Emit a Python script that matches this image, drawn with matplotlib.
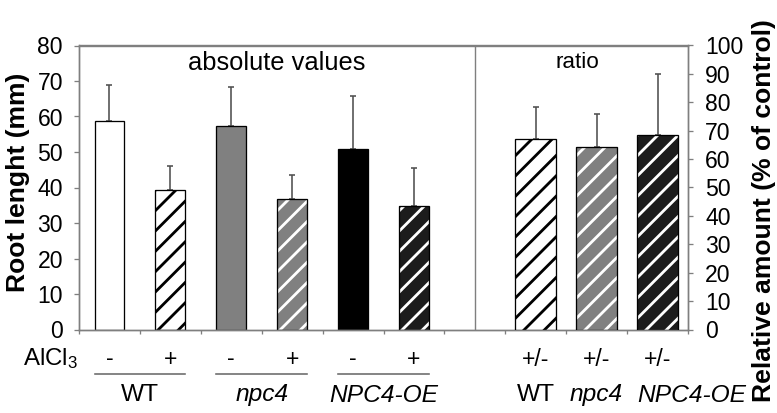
import matplotlib
matplotlib.use("Agg")
import matplotlib.pyplot as plt
from matplotlib.lines import Line2D
from matplotlib.transforms import blended_transform_factory

# ---- data ----
abs_labels = ["WT-", "WT+", "npc4-", "npc4+", "OE-", "OE+"]
abs_values = [58.7, 39.2, 57.3, 36.8, 50.8, 34.7]
abs_errors = [10.1, 6.8, 11.1, 6.8, 15.0, 10.9]
ratio_values = [67.0, 64.2, 68.5]
ratio_errors = [11.2, 11.8, 21.5]
treat_labels = ["-", "+", "-", "+", "-", "+"]
ratio_treat = ["+/-", "+/-", "+/-"]
group_labels = ["WT", "npc4", "NPC4-OE"]
left_ticks = [0, 10, 20, 30, 40, 50, 60, 70, 80]
right_ticks = [0, 10, 20, 30, 40, 50, 60, 70, 80, 90, 100]

DPI = 122
W, H = 777, 413
plt.rcParams['font.family'] = ['Liberation Sans', 'DejaVu Sans']
plt.rcParams['mathtext.default'] = 'regular'

def pt(px):
    return px * 72.0 / DPI

plt.rcParams['hatch.linewidth'] = pt(2.8)

fig = plt.figure(figsize=(W / DPI, H / DPI), dpi=DPI)
L, R, T, B = 79, 688, 45.5, 329.5
ax = fig.add_axes([L / W, 1 - B / H, (R - L) / W, (B - T) / H])
ax2 = ax.twinx()

spine_c = '#7f7f7f'
face = ['white', 'white', '#808080', '#808080', 'black', '#1c1c1c']
hatch_c = [None, 'black', None, 'white', None, 'white']
abs_x = [0, 1, 2, 3, 4, 5]
ratio_x = [7, 8, 9]
ratio_face = ['white', '#808080', '#1c1c1c']
ratio_hatch = ['black', 'white', 'white']
w_abs = 0.49
w_ratio = 0.67
elw = pt(1.6)
HATCH = '//'

for xi, v, e, fc, hc in zip(abs_x, abs_values, abs_errors, face, hatch_c):
    if hc is None:
        ax.bar(xi, v, w_abs, color=fc, edgecolor='black', linewidth=pt(1.3), zorder=2)
    else:
        ax.bar(xi, v, w_abs, color=fc, edgecolor=hc, hatch=HATCH, linewidth=0, zorder=2)
        ax.bar(xi, v, w_abs, fill=False, edgecolor='black', linewidth=pt(1.3), zorder=3)
    ax.errorbar(xi, v, yerr=[[0], [e]], fmt='none', ecolor='#505050',
                elinewidth=elw, capsize=pt(2.6), capthick=elw, zorder=1)

for xi, v, e, fc, hc in zip(ratio_x, ratio_values, ratio_errors, ratio_face, ratio_hatch):
    ax2.bar(xi, v, w_ratio, color=fc, edgecolor=hc, hatch=HATCH, linewidth=0, zorder=2)
    ax2.bar(xi, v, w_ratio, fill=False, edgecolor='black', linewidth=pt(1.3), zorder=3)
    ax2.errorbar(xi, v, yerr=[[0], [e]], fmt='none', ecolor='#505050',
                 elinewidth=elw, capsize=pt(2.6), capthick=elw, zorder=1)

ax.set_xlim(-0.5, 9.5)
ax.set_ylim(0, 80)
ax2.set_ylim(0, 100)
ax.set_yticks(left_ticks)
ax2.set_yticks(right_ticks)
ax.set_xticks([i - 0.5 for i in range(11)])
ax.set_xticklabels([])

for a in (ax, ax2):
    for s in a.spines.values():
        s.set_color(spine_c)
        s.set_linewidth(pt(1.4))
ax.tick_params(axis='y', direction='out', length=pt(5), width=pt(1.3), color=spine_c,
               labelsize=pt(23), pad=pt(11))
ax2.tick_params(axis='y', direction='out', length=pt(5), width=pt(1.3), color=spine_c,
                labelsize=pt(23), pad=pt(12))
ax.tick_params(axis='x', direction='out', length=pt(4), width=pt(1.3), color=spine_c)

# divider
ax.axvline(6, color=spine_c, linewidth=pt(1.4), zorder=1)

ax.set_ylabel("Root lenght (mm)", fontsize=pt(26.5), fontweight='bold')
ax.yaxis.label.set(rotation=90, rotation_mode='anchor', va='baseline', ha='center')
ax.yaxis.set_label_coords((25 - L) / (R - L), (B - 182) / (B - T))
ax2.set_ylabel("Relative amount (% of control)", fontsize=pt(26.5), fontweight='bold')
ax2.yaxis.label.set(rotation=90, rotation_mode='anchor', va='baseline', ha='center')
ax2.yaxis.set_label_coords((771 - L) / (R - L), (B - 211) / (B - T))

def fx(px):
    return px / W

def fy(py):
    return 1 - py / H

fig.text(fx(277), fy(63), "absolute values", fontsize=pt(25.5), ha='center', va='center')
fig.text(fx(577), fy(63), "ratio", fontsize=pt(22.5), ha='center', va='center')

# bottom labels (x in data coords, y in figure coords)
tr = blended_transform_factory(ax.transData, fig.transFigure)
for xi, t in zip(abs_x, treat_labels):
    ax.text(xi, fy(359), t, transform=tr, fontsize=pt(23), ha='center', va='center')
for xi, t in zip(ratio_x, ratio_treat):
    ax.text(xi, fy(359), t, transform=tr, fontsize=pt(23), ha='center', va='center')
fig.text(fx(23), fy(359), r"AlCl$_{3}$", fontsize=pt(24), ha='left', va='center')

styles = ['normal', 'italic', 'italic']
for g, (lbl, st) in enumerate(zip(group_labels, styles)):
    x0 = abs_x[2 * g] - w_abs / 2
    x1 = abs_x[2 * g + 1] + w_abs / 2
    ax.add_line(Line2D([x0, x1], [fy(374), fy(374)], transform=tr, color='#6a6a6a',
                       linewidth=pt(1.6), clip_on=False))
    ax.text((x0 + x1) / 2, fy(395), lbl, transform=tr, fontsize=pt(24.5), style=st,
            ha='center', va='center')
# ratio group labels: WT, npc4 centred; NPC4-OE starts at its bar's left edge
ax.text(ratio_x[0], fy(395), group_labels[0], transform=tr, fontsize=pt(24.5),
        ha='center', va='center')
ax.text(ratio_x[1], fy(395), group_labels[1], transform=tr, fontsize=pt(24.5),
        style='italic', ha='center', va='center')
ax.text(ratio_x[2] - w_ratio / 2, fy(395), group_labels[2], transform=tr,
        fontsize=pt(24.5), style='italic', ha='left', va='center')

fig.savefig("out.png", dpi=DPI)
